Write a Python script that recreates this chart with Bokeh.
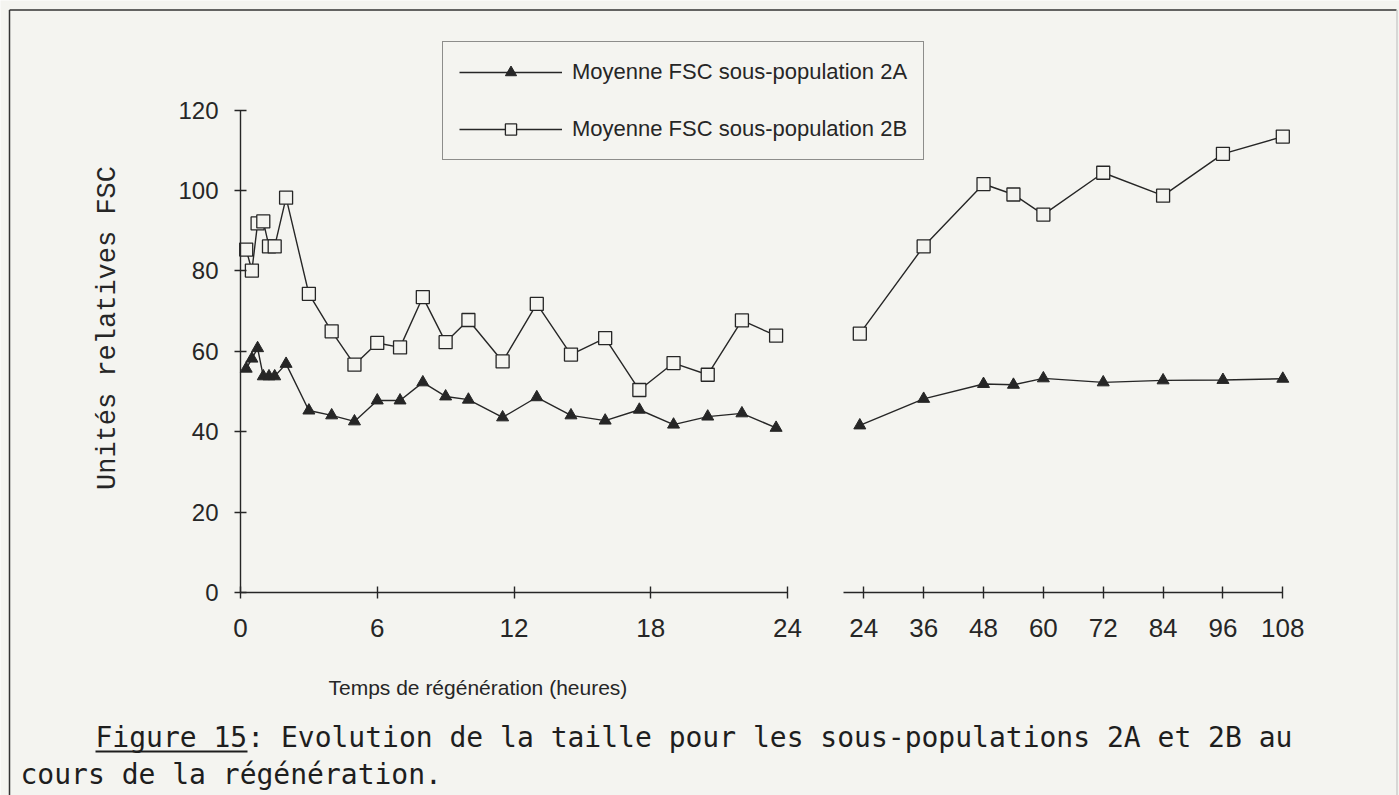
import math
from bokeh.plotting import figure
from bokeh.models import (Range1d, LinearAxis, FixedTicker, Legend, LegendItem,
                          Label)
from bokeh.embed import file_html
from bokeh.resources import INLINE

# ---------------- data ----------------
hours_early = [0.25, 0.5, 0.75, 1, 1.25, 1.5, 2, 3, 4, 5, 6, 7, 8, 9, 10,
               11.5, 13, 14.5, 16, 17.5, 19, 20.5, 22, 23.5]
fsc_2a_early = [55.7, 58.2, 60.8, 53.8, 53.8, 53.8, 56.9, 45.3, 44.1, 42.6,
                47.8, 47.8, 52.3, 48.8, 48.0, 43.6, 48.6, 44.1, 42.8, 45.5,
                41.8, 43.8, 44.6, 41.0]
fsc_2b_early = [85.3, 80.1, 91.8, 92.3, 86.1, 86.1, 98.2, 74.3, 65.0, 56.7,
                62.1, 61.0, 73.5, 62.3, 67.8, 57.5, 71.8, 59.2, 63.3, 50.4,
                57.1, 54.2, 67.7, 63.9]

hours_late = [23.2, 36, 48, 54, 60, 72, 84, 96, 108]
fsc_2a_late = [41.6, 48.2, 51.9, 51.7, 53.3, 52.3, 52.8, 52.9, 53.2]
fsc_2b_late = [64.4, 86.1, 101.6, 99.0, 94.0, 104.4, 98.7, 109.1, 113.4]

y_ticks = [0, 20, 40, 60, 80, 100, 120]
early_ticks = [0, 6, 12, 18, 24]
late_ticks = [24, 36, 48, 60, 72, 84, 96, 108]

label_2a = "Moyenne FSC sous-population 2A"
label_2b = "Moyenne FSC sous-population 2B"
y_title = "Unités relatives FSC"
x_title = "Temps de régénération (heures)"
caption_1 = "Figure 15: Evolution de la taille pour les sous-populations 2A et 2B au"
caption_2 = "cours de la régénération."

# ---------------- layout ----------------
W, H, OFF = 1399, 795, 0
BG = "#f4f4f0"
INK = "#262626"

LX0, LX24 = 240.0, 787.0        # page px of 0 h and 24 h (first segment)
RX24, RX108 = 863.3, 1282.3     # page px of 24 h and 108 h (second segment)
Y0, Y120 = 592.3, 109.5         # page px of 0 and 120

lpx = (LX24 - LX0) / 24.0
rpx = (RX108 - RX24) / 84.0
ypx = (Y0 - Y120) / 120.0

left_start = -(LX0 - OFF) / lpx
left_end = (W - (LX0 - OFF)) / lpx
right_start = 24 - (RX24 - OFF) / rpx
right_end = 24 + (W - (RX24 - OFF)) / rpx
y_end = (Y0 - OFF) / ypx
y_start = -(H - (Y0 - OFF)) / ypx


def dx(px):
    return (px - LX0) / lpx


def dy(py):
    return (Y0 - py) / ypx


p = figure(width=W, height=H, output_backend="svg", toolbar_location=None,
           title=None, x_range=Range1d(left_start, left_end),
           y_range=Range1d(y_start, y_end),
           x_axis_location=None, y_axis_location=None,
           min_border=0, background_fill_color=BG, border_fill_color=BG,
           outline_line_color=None)
p.min_border_left = p.min_border_right = 0
p.min_border_top = p.min_border_bottom = 0
p.extra_x_ranges = {"late": Range1d(right_start, right_end)}
p.xgrid.visible = False
p.ygrid.visible = False
p.grid.grid_line_color = None


def style_axis(ax, size, standoff):
    ax.axis_line_color = INK
    ax.axis_line_width = 1.4
    ax.major_tick_line_color = INK
    ax.major_tick_line_width = 1.4
    ax.major_tick_in = 6
    ax.major_tick_out = 6
    ax.minor_tick_line_color = None
    ax.major_label_text_font = "Liberation Sans"
    ax.major_label_text_font_size = size
    ax.major_label_text_color = INK
    ax.major_label_standoff = standoff


yax = LinearAxis(fixed_location=0, bounds=(0, 120),
                 ticker=FixedTicker(ticks=y_ticks))
style_axis(yax, "24px", 16)
p.add_layout(yax, "left")

xax1 = LinearAxis(fixed_location=0, bounds=(0, 24),
                  ticker=FixedTicker(ticks=early_ticks))
style_axis(xax1, "26px", 20)
p.add_layout(xax1, "below")

xax2 = LinearAxis(x_range_name="late", fixed_location=0, bounds=(19.87, 108),
                  ticker=FixedTicker(ticks=late_ticks))
style_axis(xax2, "26px", 20)
p.add_layout(xax2, "below")

# ---------------- series ----------------
l2a = p.line(hours_early, fsc_2a_early, line_color=INK, line_width=1.4)
s2a = p.scatter(hours_early, fsc_2a_early, marker="triangle", size=12,
                fill_color=INK, line_color=INK)
l2b = p.line(hours_early, fsc_2b_early, line_color=INK, line_width=1.4)
s2b = p.scatter(hours_early, fsc_2b_early, marker="square", size=13,
                fill_color=BG, line_color=INK, line_width=1.3)

p.line(hours_late, fsc_2a_late, line_color=INK, line_width=1.4,
       x_range_name="late")
p.scatter(hours_late, fsc_2a_late, marker="triangle", size=12,
          fill_color=INK, line_color=INK, x_range_name="late")
p.line(hours_late, fsc_2b_late, line_color=INK, line_width=1.4,
       x_range_name="late")
p.scatter(hours_late, fsc_2b_late, marker="square", size=13,
          fill_color=BG, line_color=INK, line_width=1.3, x_range_name="late")

# ---------------- legend ----------------
legend = Legend(
    items=[LegendItem(label=label_2a, renderers=[l2a, s2a]),
           LegendItem(label=label_2b, renderers=[l2b, s2b])],
    location=(442, H - 160), orientation="vertical",
    glyph_width=103, glyph_height=28, label_height=28, label_standoff=10,
    padding=16, spacing=29, margin=0,
    border_line_color=INK, border_line_width=1.3,
    background_fill_color=BG, background_fill_alpha=1.0,
    label_text_font="Liberation Sans", label_text_font_size="22px",
    label_text_color=INK)
p.add_layout(legend)

# ---------------- texts ----------------
p.add_layout(Label(x=dx(107.5), y=dy(327.5), text=y_title, angle=math.pi / 2,
                   text_align="center", text_baseline="middle",
                   text_font="Liberation Mono", text_font_size="27px",
                   text_color=INK))
p.add_layout(Label(x=dx(328), y=dy(687), text=x_title, text_align="left",
                   text_baseline="middle", text_font="Liberation Sans",
                   text_font_size="21px", text_color=INK))
p.add_layout(Label(x=dx(95), y=dy(737), text=caption_1, text_align="left",
                   text_baseline="middle", text_font="DejaVu Sans Mono",
                   text_font_size="28px", text_color="#1e1e1e"))
p.add_layout(Label(x=dx(20), y=dy(774), text=caption_2, text_align="left",
                   text_baseline="middle", text_font="DejaVu Sans Mono",
                   text_font_size="28px", text_color="#1e1e1e"))
# underline of "Figure 15"
p.segment(x0=[dx(95)], y0=[dy(751)], x1=[dx(247)], y1=[dy(751)],
          line_color="#1e1e1e", line_width=2)

# page frame (top and left edges dark, right edge faint)
p.segment(x0=[dx(9), dx(9)], y0=[dy(9.5), dy(9.5)],
          x1=[dx(1396), dx(9)], y1=[dy(9.5), dy(800)],
          line_color="#333333", line_width=1.5)
p.segment(x0=[dx(1396.5)], y0=[dy(9.5)], x1=[dx(1396.5)], y1=[dy(800)],
          line_color="#bbbbbb", line_width=1.0)

open("out.html", "w").write(file_html(p, INLINE))
